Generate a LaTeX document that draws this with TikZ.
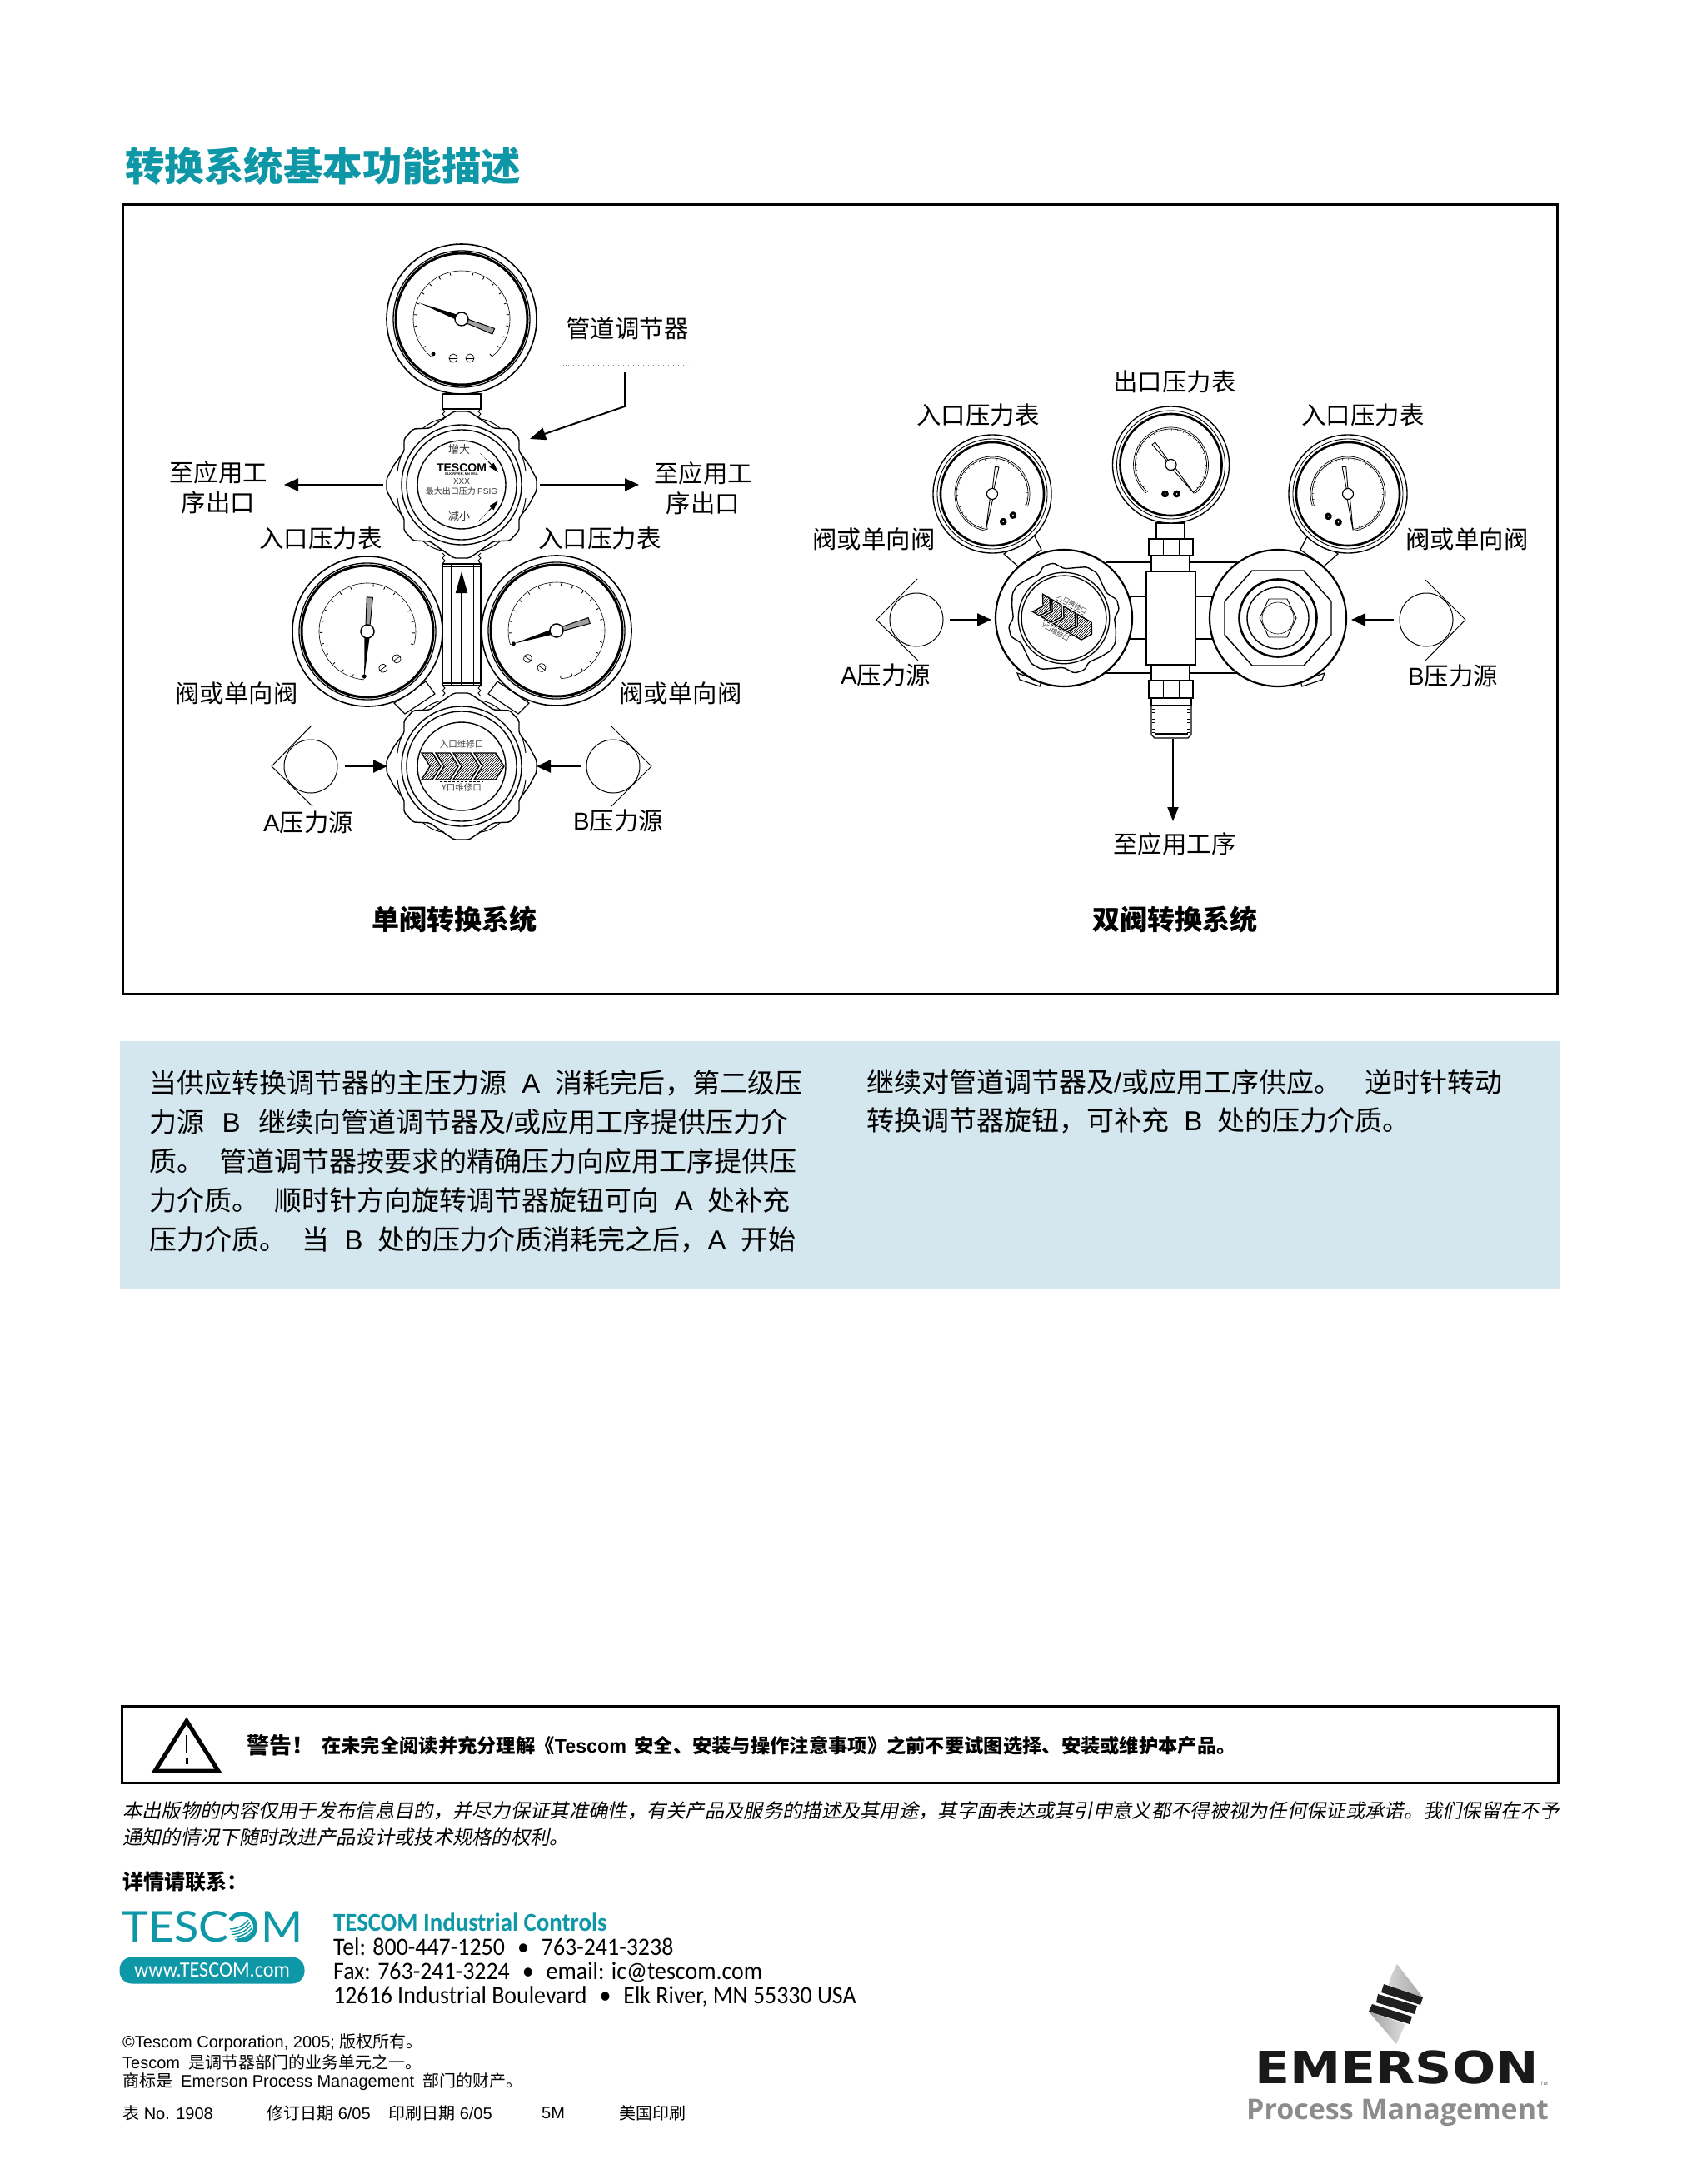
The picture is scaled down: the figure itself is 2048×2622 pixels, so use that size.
\documentclass[tikz,border=0pt]{standalone}
\usepackage{fontspec}
\setmainfont{Noto Sans CJK SC}
\newfontfamily\lat{Liberation Sans}
\newfontfamily\slcjk[FakeSlant=0.2]{Noto Sans CJK SC}
\newfontfamily\myr[FakeStretch=.93]{Carlito}
\newfontfamily\emer[FakeStretch=1.15]{DejaVu Sans}
\newfontfamily\proc{Open Sans}
\newfontfamily\tesc[FakeStretch=1.06]{Lato}
\usetikzlibrary{arrows.meta,positioning,patterns}
\definecolor{tealmain}{HTML}{0E97A6}
\definecolor{paleblue}{HTML}{D5E7EE}
\tikzset{
  lbl/.style={inner sep=0pt,font=\fontsize{29.4}{36.5}\selectfont},
  capt/.style={inner sep=0pt,font=\fontsize{33}{38}\selectfont\bfseries},
  para/.style={inner sep=0pt,anchor=west,font=\fontsize{33}{38}\selectfont},
  small/.style={inner sep=0pt,anchor=west,font=\fontsize{20}{23}\selectfont\lat},
  cont/.style={inner sep=0pt,anchor=west,font=\fontsize{30}{34}\selectfont\myr},
  flow/.style={-{Triangle[length=17pt,width=15pt]},line width=2.4pt},
  srccirc/.style={circle,draw,fill=white,minimum size=64pt,inner sep=0pt,line width=1pt},
}
% gauge of the left system: x, y, radius, turn, needle
\newcommand{\gaugeA}[5]{%
  \begin{scope}[shift={(#1,#2)},rotate=#4]
    \draw[fill=white,line width=1.6pt] (0,0) circle (#3);
    \draw[line width=1.3pt] (0,0) circle (#3-8);
    \draw[line width=3pt] (0,0) circle (#3-11);
    \draw[line width=.6pt] (231:58) arc (231:-51:58);
    \foreach \t in {0,...,20} \draw[line width=.9pt] ({231-\t*14.1}:54) -- ({231-\t*14.1}:57);
    \fill (231:54) circle (2.5);
    \foreach \sx in {-10,10} {
      \draw[fill=white,line width=.7pt] (\sx,-47) circle (5);
      \draw[line width=.7pt] (\sx-5,-47) -- (\sx+5,-47);
    }
    \fill ({#5}:55) -- ({#5+90}:3.5) -- ({#5-90}:3.5) -- cycle;
    \begin{scope}[rotate={#5+180}]
      \draw[fill=gray!75,line width=1pt] (6,2.5) -- (41,3.6) -- (41,-3.6) -- (6,-2.5) -- cycle;
    \end{scope}
    \draw[fill=white,line width=1.4pt] (0,0) circle (8);
  \end{scope}}
% gauge of the right system
\newcommand{\gaugeB}[5]{%
  \begin{scope}[shift={(#1,#2)},rotate=#4]
    \draw[fill=white,line width=1.4pt] (0,0) circle (#3);
    \draw[line width=.9pt] (0,0) circle (#3-5);
    \draw[line width=2.6pt] (0,0) circle (#3-9);
    \draw[line width=.7pt] (229:45) arc (229:-51:45);
    \draw[line width=.7pt] (229:43) arc (229:-51:43);
    \foreach \t in {0,...,28} \draw[line width=.5pt] ({229-\t*10}:43) -- ({229-\t*10}:41);
    \foreach \sx in {-7,7} {
      \fill (\sx,-35) circle (4.4);
      \fill[white] (\sx,-35) circle (1);
    }
    \draw[fill=white,line width=.9pt] ({#5+90}:2) -- ({#5}:44) -- ({#5-90}:2) -- cycle;
    \draw[fill=white,line width=.9pt] ({#5+180+8}:6) -- ({#5+180+4}:33) -- ({#5+180-4}:33) -- ({#5+180-8}:6) -- cycle;
    \draw[fill=white,line width=1.2pt] (0,0) circle (6.5);
  \end{scope}}
% scalloped hand knob, in local coordinates
\newcommand{\knobshape}{%
  (9,88) -- (21,80) -- (38,68) -- (58,67) -- (69,55) -- (69,40) -- (81,24) -- (90,7) --
  (90,-7) -- (81,-24) -- (69,-40) -- (69,-55) -- (58,-67) -- (38,-68) -- (21,-80) -- (9,-88) --
  (-9,-88) -- (-21,-80) -- (-38,-68) -- (-58,-67) -- (-69,-55) -- (-69,-40) -- (-81,-24) -- (-90,-7) --
  (-90,7) -- (-81,24) -- (-69,40) -- (-69,55) -- (-58,67) -- (-38,68) -- (-21,80) -- (-9,88) -- cycle}
\newcommand{\knoblens}{%
  \foreach \fx/\fy in {1/1,1/-1,-1/1,-1/-1} {
    \begin{scope}[xscale=\fx,yscale=\fy]
      \draw[line width=1pt] (21,79) .. controls (28,79) and (38,75) .. (46,68);
      \draw[line width=1pt] (71,38) .. controls (74,32) and (76,24) .. (77,16);
    \end{scope}
  }}
% port plate with the four hatched chevrons
\newcommand{\portplate}{%
  \foreach \ca/\cb in {-48/-25,-31/-4,-10/21,15/51} {
    \draw[fill=white,line width=1.3pt] (\ca,16) -- (\cb-10,16) -- (\cb,0) -- (\cb-10,-16) -- (\ca,-16) -- (\ca+10,0) -- cycle;
    \fill[pattern=north east lines] (\ca,16) -- (\cb-10,16) -- (\cb,0) -- (\cb-10,-16) -- (\ca,-16) -- (\ca+10,0) -- cycle;
  }
  \node[inner sep=0pt,font=\fontsize{10.5}{12}\selectfont,text=black!75] at (0,26) {入口维修口};
  \node[inner sep=0pt,font=\fontsize{10.5}{12}\selectfont,text=black!75] at (0,-26) {Y口维修口};
  \draw[densely dashed,line width=.5pt] (-26,19.5) -- (26,19.5);
  \draw[densely dashed,line width=.8pt] (-26,-18.5) -- (26,-18.5);}
\begin{document}
\begin{tikzpicture}[x=1pt,y=1pt,>=Latex]
  \useasboundingbox (0,0) rectangle (2048,-2622);
  \fill[white] (0,0) rectangle (2048,-2622);

  % heading and frames
  \node[inner sep=0pt,anchor=west,text=tealmain,font=\fontsize{47.5}{52}\selectfont\bfseries] (title) at (150,-199) {转换系统基本功能描述};
  \draw[line width=3pt] (147,-246) rectangle (1869,-1193);
  \fill[paleblue] (144,-1250) rectangle (1872,-1547);

  % single valve system: lower parts first
  \draw[fill=white,line width=1.2pt] (511,-818) -- (522,-833) -- (486,-857) -- (473,-844) -- cycle;
  \draw[fill=white,line width=1.2pt] (597,-818) -- (586,-833) -- (622,-857) -- (635,-844) -- cycle;
  \draw[fill=white,line width=1.2pt] (531,-473) rectangle (577,-491);
  \draw[line width=1pt] (531,-491) -- (534,-494) -- (531,-497) -- (534,-500) -- (531,-503);
  \draw[line width=1pt] (577,-491) -- (574,-494) -- (577,-497) -- (574,-500) -- (577,-503);
  \draw[line width=1pt] (531,-664) -- (534,-667) -- (531,-670) -- (534,-673) -- (531,-677);
  \draw[line width=1pt] (577,-664) -- (574,-667) -- (577,-670) -- (574,-673) -- (577,-677);
  \draw[line width=1pt] (531,-823) -- (534,-826) -- (531,-829) -- (534,-832) -- (531,-836);
  \draw[line width=1pt] (577,-823) -- (574,-826) -- (577,-829) -- (574,-832) -- (577,-836);

  % column
  \draw[fill=white,line width=1.3pt] (531,-677) rectangle (577,-823);
  \draw[line width=1pt] (541,-677) -- (541,-823) (568,-677) -- (568,-823);
  \draw[line width=1.6pt] (531,-680) -- (577,-680) (531,-820) -- (577,-820);
  \coordinate (colend) at (554,-823);
  \coordinate (coltip) at (554,-686);
  \draw[-{Triangle[length=26pt,width=14pt]},line width=1.8pt] (colend) -- (coltip);

  % gauges
  \gaugeA{554}{-383}{90}{0}{159}
  \gaugeA{441}{-758}{90}{35}{231}
  \gaugeA{668}{-757}{90}{-34}{231}

  % upper knob
  \begin{scope}[shift={(554,-582)}]
    \draw[fill=white,line width=1.4pt,rounded corners=2pt] \knobshape;
    \knoblens
    \draw[line width=1.4pt] (0,0) circle (72);
    \draw[line width=1.4pt] (0,0) circle (66);
    \draw[line width=1.4pt] (0,0) circle (53);
    \node[inner sep=0pt,font=\fontsize{13}{14}\selectfont,text=black!80] (incr) at (-3,42) {增大};
    \node[inner sep=0pt,font=\fontsize{13}{14}\selectfont,text=black!80] (decr) at (-3,-38) {减小};
    \node[inner sep=0pt,font=\fontsize{14}{15}\selectfont\bfseries\lat] (brand) at (0,20) {TESCOM};
    \node[inner sep=0pt,font=\fontsize{4}{5}\selectfont\bfseries\lat,below=0.5pt of brand] (city) {ELK RIVER, MN USA};
    \node[inner sep=0pt,font=\fontsize{10}{11}\selectfont\lat,text=black!80] (xxx) at (0,4) {XXX};
    \node[inner sep=0pt,font=\fontsize{10}{11}\selectfont,text=black!80] (maxp) at (0,-8) {最大出口压力 {\lat PSIG}};
    \coordinate (incA) at (22,38);
    \coordinate (incB) at (44,15);
    \coordinate (decA) at (20,-44);
    \coordinate (decB) at (44,-19);
    \draw[densely dotted,line width=.7pt] (incA) -- (32,28);
    \draw[-{Triangle[length=12pt,width=7pt]},line width=1pt] (32,28) -- (incB);
    \draw[densely dotted,line width=.7pt] (decA) -- (32,-32);
    \draw[-{Triangle[length=12pt,width=7pt]},line width=1pt] (32,-32) -- (decB);
  \end{scope}

  % lower knob
  \begin{scope}[shift={(554,-920)}]
    \draw[fill=white,line width=1.4pt,rounded corners=2pt] \knobshape;
    \knoblens
    \draw[line width=1.4pt] (0,0) circle (72);
    \draw[line width=1.4pt] (0,0) circle (66);
    \draw[line width=1.4pt] (0,0) circle (53);
    \portplate
  \end{scope}

  % sources and arrows of the single valve system
  \node[srccirc] (srcA) at (373,-920) {};
  \draw[line width=1pt] (374,-871) -- (326,-920) -- (375,-968);
  \node[srccirc] (srcB) at (736,-920) {};
  \draw[line width=1pt] (734,-872) -- (782,-920) -- (734,-968);
  \coordinate (knobA) at (465,-920);
  \coordinate (knobB) at (644,-920);
  \draw[flow,shorten <=8pt] (srcA.east) -- (knobA);
  \draw[flow,shorten <=7pt] (srcB.west) -- (knobB);
  \coordinate (outLs) at (460,-582);
  \coordinate (outLe) at (341,-582);
  \coordinate (outRs) at (648,-582);
  \coordinate (outRe) at (767,-582);
  \draw[flow] (outLs) -- (outLe);
  \draw[flow] (outRs) -- (outRe);
  \coordinate (leadA) at (750,-447);
  \coordinate (leadB) at (750,-488);
  \coordinate (leadC) at (636,-527);
  \draw[-{Triangle[length=19pt,width=15pt]},line width=2pt] (leadA) -- (leadB) -- (leadC);
  \draw[dotted,line width=1pt,black!50] (676,-438) -- (826,-438);

  % labels of the single valve system
  \node[lbl] (lblPipe) at (753,-394) {管道调节器};
  \node[lbl,align=center] (lblOutL) at (262,-585) {至应用工\\序出口};
  \node[lbl,align=center] (lblOutR) at (844,-586) {至应用工\\序出口};
  \node[lbl] (lblInL) at (385,-646) {入口压力表};
  \node[lbl] (lblInR) at (720,-646) {入口压力表};
  \node[lbl] (lblVlvL) at (284,-832) {阀或单向阀};
  \node[lbl] (lblVlvR) at (817,-832) {阀或单向阀};
  \node[lbl] (lblSrcA) at (370,-987) {{\lat A}压力源};
  \node[lbl] (lblSrcB) at (742,-985) {{\lat B}压力源};
  \node[capt] (captL) at (545,-1104) {单阀转换系统};

  % dual valve system
  \draw[line width=1.3pt] (1327,-675) -- (1485,-675) (1327,-808) -- (1485,-808);
  \draw[fill=white,line width=1.2pt] (1357,-716) rectangle (1376,-767);
  \draw[fill=white,line width=1.2pt] (1435,-716) rectangle (1455,-767);
  \draw[fill=white,line width=1.2pt] (1205,-665) -- (1240,-640) -- (1250,-660) -- (1222,-680) -- cycle;
  \draw[fill=white,line width=1.2pt] (1606,-665) -- (1571,-640) -- (1561,-660) -- (1589,-680) -- cycle;
  \draw[fill=white,line width=1.2pt] (1221,-808) -- (1224,-816) -- (1248,-824) -- (1250,-818) -- cycle;
  \draw[fill=white,line width=1.2pt] (1590,-808) -- (1587,-816) -- (1563,-824) -- (1561,-818) -- cycle;

  \gaugeB{1191}{-593}{71}{33}{227}
  \gaugeB{1618}{-593}{71}{-30}{-52}
  \draw[fill=white,line width=1.3pt] (1388,-628) rectangle (1422,-647);
  \gaugeB{1405.5}{-558}{70}{0}{-51}

  % centre block and fittings
  \draw[fill=white,line width=1.3pt] (1382,-667) rectangle (1428,-686);
  \draw[fill=white,line width=1.3pt] (1382,-798) rectangle (1428,-817);
  \draw[fill=white,line width=1.5pt] (1379,-647) rectangle (1432,-667);
  \draw[line width=1pt] (1396,-647) -- (1396,-667) (1415,-647) -- (1415,-667);
  \draw[fill=white,line width=1.5pt] (1376,-686) rectangle (1435,-798);
  \draw[fill=white,line width=1.5pt] (1379,-817) rectangle (1432,-838);
  \draw[line width=1pt] (1396,-817) -- (1396,-838) (1415,-817) -- (1415,-838);
  \draw[fill=white,line width=1.3pt] (1382,-838) rectangle (1430,-847);
  \draw[fill=white,line width=1.3pt] (1382,-847) -- (1430,-847) -- (1430,-882) -- (1426,-886) -- (1386,-886) -- (1382,-882) -- cycle;
  \foreach \ty in {-851,-855,...,-880} \draw[line width=.5pt] (1383,\ty) -- (1387,\ty) (1425,\ty) -- (1429,\ty);
  \draw[line width=1.2pt] (1386,-881) -- (1426,-881);

  % left regulator with knob
  \begin{scope}[shift={(1277,-742)}]
    \draw[fill=white,line width=2.2pt] (0,0) circle (82);
    \begin{scope}[rotate=-30,scale=.76,transform shape]
      \draw[fill=white,line width=1.4pt,rounded corners=2pt] \knobshape;
      \draw[line width=1.3pt] (0,0) circle (72);
      \draw[line width=1.3pt] (0,0) circle (67);
      \portplate
    \end{scope}
  \end{scope}

  % right regulator from the back
  \begin{scope}[shift={(1534,-742)}]
    \draw[fill=white,line width=2.2pt] (0,0) circle (82);
    \draw[line width=1.4pt] (-31,57) -- (31,57) -- (64,20) -- (64,-20) -- (31,-57) -- (-31,-57) -- (-64,-20) -- (-64,20) -- cycle;
    \draw[line width=2.6pt] (0,0) circle (46.5);
    \draw[line width=1.4pt] (0,0) circle (37);
    \draw[line width=.9pt] (-11,23) -- (11,23) -- (22,0) -- (11,-23) -- (-11,-23) -- (-22,0) -- cycle;
    \draw[line width=.6pt] (0,0) circle (19);
  \end{scope}

  % sources and arrows of the dual valve system
  \node[srccirc] (srcC) at (1100,-744) {};
  \draw[line width=1pt] (1101,-695) -- (1052,-744) -- (1102,-793);
  \node[srccirc] (srcD) at (1712,-744) {};
  \draw[line width=1pt] (1711,-696) -- (1759,-744) -- (1711,-793);
  \coordinate (regC) at (1190,-744);
  \coordinate (regD) at (1622,-744);
  \draw[flow,shorten <=7pt] (srcC.east) -- (regC);
  \draw[flow,shorten <=7pt] (srcD.west) -- (regD);
  \coordinate (drainA) at (1408,-887);
  \coordinate (drainB) at (1408,-986);
  \draw[-{Triangle[length=17pt,width=13pt]},line width=2pt] (drainA) -- (drainB);

  % labels of the dual valve system
  \node[lbl] (lblOutG) at (1410,-458) {出口压力表};
  \node[lbl] (lblInC) at (1174,-498) {入口压力表};
  \node[lbl] (lblInD) at (1636,-498) {入口压力表};
  \node[lbl] (lblVlvC) at (1049,-647) {阀或单向阀};
  \node[lbl] (lblVlvD) at (1761,-647) {阀或单向阀};
  \node[lbl] (lblSrcC) at (1063,-810) {{\lat A}压力源};
  \node[lbl] (lblSrcD) at (1744,-811) {{\lat B}压力源};
  \node[lbl] (lblProc) at (1410,-1013) {至应用工序};
  \node[capt] (captR) at (1410,-1104) {双阀转换系统};

  % description text
  \node[para] (pa) at (179,-1300) {当供应转换调节器的主压力源\hspace{.55em}{\lat A}\hspace{.55em}消耗完后，第二级压};
  \node[para] (pb) at (179,-1347) {力源\hspace{.65em}{\lat B}\hspace{.65em}继续向管道调节器及{\lat /}或应用工序提供压力介};
  \node[para] (pc) at (179,-1394) {质。\hspace{.55em}管道调节器按要求的精确压力向应用工序提供压};
  \node[para] (pd) at (179,-1441) {力介质。\hspace{.55em}顺时针方向旋转调节器旋钮可向\hspace{.55em}{\lat A}\hspace{.55em}处补充};
  \node[para] (pe) at (179,-1488) {压力介质。\hspace{.55em}当\hspace{.55em}{\lat B}\hspace{.55em}处的压力介质消耗完之后，{\lat A}\hspace{.55em}开始};
  \node[para] (pf) at (1040,-1299) {继续对管道调节器及{\lat /}或应用工序供应。\hspace{.85em}逆时针转动};
  \node[para] (pg) at (1040,-1345) {转换调节器旋钮，可补充\hspace{.55em}{\lat B}\hspace{.55em}处的压力介质。};

  % warning
  \draw[line width=3pt] (146,-2048) rectangle (1870,-2140);
  \draw[line width=5pt,line join=miter] (224,-2066) -- (262,-2126) -- (186,-2126) -- cycle;
  \draw[line width=2.6pt] (224,-2083) -- (224,-2105);
  \fill (222.5,-2110) rectangle (225.5,-2118);
  \node[inner sep=0pt,anchor=west,font=\fontsize{27}{30}\selectfont\bfseries] (warnA) at (296,-2095) {警告！};
  \node[inner sep=0pt,anchor=west,font=\fontsize{23.3}{26}\selectfont\bfseries] (warnB) at (386,-2096) {在未完全阅读并充分理解《{\lat Tescom}\hspace{.4em}安全、安装与操作注意事项》之前不要试图选择、安装或维护本产品。};
  \node[inner sep=0pt,anchor=west,font=\fontsize{23.3}{26}\selectfont\slcjk] (discA) at (147,-2174) {本出版物的内容仅用于发布信息目的，并尽力保证其准确性，有关产品及服务的描述及其用途，其字面表达或其引申意义都不得被视为任何保证或承诺。我们保留在不予};
  \node[inner sep=0pt,anchor=west,font=\fontsize{23.3}{26}\selectfont\slcjk] (discB) at (147,-2206) {通知的情况下随时改进产品设计或技术规格的权利。};
  \node[inner sep=0pt,anchor=west,font=\fontsize{25}{28}\selectfont\bfseries] (more) at (147,-2259) {详情请联系：};

  % Tescom block
  \node[inner sep=0pt,anchor=west,text=tealmain,font=\fontsize{51}{54}\selectfont\tesc] (logoA) at (146,-2313) {TESC};
  \draw[tealmain,line width=5pt] (290.5,-2313.5) ++(150:16) arc (150:-110:16);
  \foreach \sw in {0,1,2,3,4} \draw[tealmain,line width=1.4pt] (276+\sw*1.5,-2316-\sw*3.2) to[bend right=22] (298+\sw*1.5,-2305-\sw*3.2);
  \node[inner sep=0pt,anchor=east,text=tealmain,font=\fontsize{51}{54}\selectfont\tesc] (logoB) at (364,-2313) {M};
  \node[fill=tealmain,rounded corners=15pt,minimum width=222pt,minimum height=32pt,inner sep=0pt,text=white,font=\fontsize{26}{30}\selectfont\myr] (web) at (254.5,-2365.5) {www.TESCOM.com};
  \node[cont,text=tealmain,font=\fontsize{31}{34}\selectfont\myr\bfseries] (ca) at (400,-2308) {TESCOM Industrial Controls};
  \node[cont] (cb) at (400,-2337) {Tel: 800-447-1250\hspace{.5em}•\hspace{.5em}763-241-3238};
  \node[cont] (cc) at (400,-2368) {Fax: 763-241-3224\hspace{.5em}•\hspace{.5em}email: ic@tescom.com};
  \node[cont] (cd) at (400,-2397) {12616 Industrial Boulevard\hspace{.5em}•\hspace{.5em}Elk River, MN 55330 USA};

  % small print
  \node[small] (fa) at (147,-2452) {©Tescom Corporation, 2005; {\rmfamily 版权所有。}};
  \node[small] (fb) at (147,-2476) {Tescom\hspace{.5em}{\rmfamily 是调节器部门的业务单元之一。}};
  \node[small] (fc) at (147,-2499) {{\rmfamily 商标是}\hspace{.5em}Emerson Process Management\hspace{.5em}{\rmfamily 部门的财产。}};
  \node[small] (fd) at (147,-2537) {{\rmfamily 表} No. 1908};
  \node[small] (fe) at (320,-2537) {{\rmfamily 修订日期} 6/05};
  \node[small] (ff) at (466,-2537) {{\rmfamily 印刷日期} 6/05};
  \node[small] (fg) at (650,-2537) {5M};
  \node[small] (fh) at (743,-2537) {{\rmfamily 美国印刷}};

  % Emerson mark
  \shade[left color=gray!35,right color=gray!70] (1677,-2358) -- (1708,-2398) -- (1667,-2384) -- (1670,-2372) -- cycle;
  \fill[black!88] (1661,-2382) -- (1708,-2398) -- (1705,-2407) -- (1658,-2392) -- cycle;
  \fill[black!88] (1654,-2394) -- (1701,-2408) -- (1698,-2418) -- (1652,-2404) -- cycle;
  \fill[black!88] (1647,-2406) -- (1695,-2421) -- (1692,-2430) -- (1643,-2415) -- cycle;
  \shade[left color=gray!75,right color=gray!25] (1643,-2415) -- (1687,-2430) -- (1676,-2454) -- cycle;
  \node[inner sep=0pt,anchor=west,text=black!90,font=\fontsize{53.5}{58}\selectfont\emer\bfseries] (emerson) at (1506,-2482) {EMERSON};
  \node[inner sep=0pt,anchor=south west,font=\fontsize{6}{7}\selectfont\lat,text=black!70] (tm) at (1849,-2504) {TM};
  \node[inner sep=0pt,anchor=west,text=black!45,font=\fontsize{34}{38}\selectfont\proc\bfseries] (procm) at (1496,-2536) {Process Management};
\end{tikzpicture}
\end{document}
